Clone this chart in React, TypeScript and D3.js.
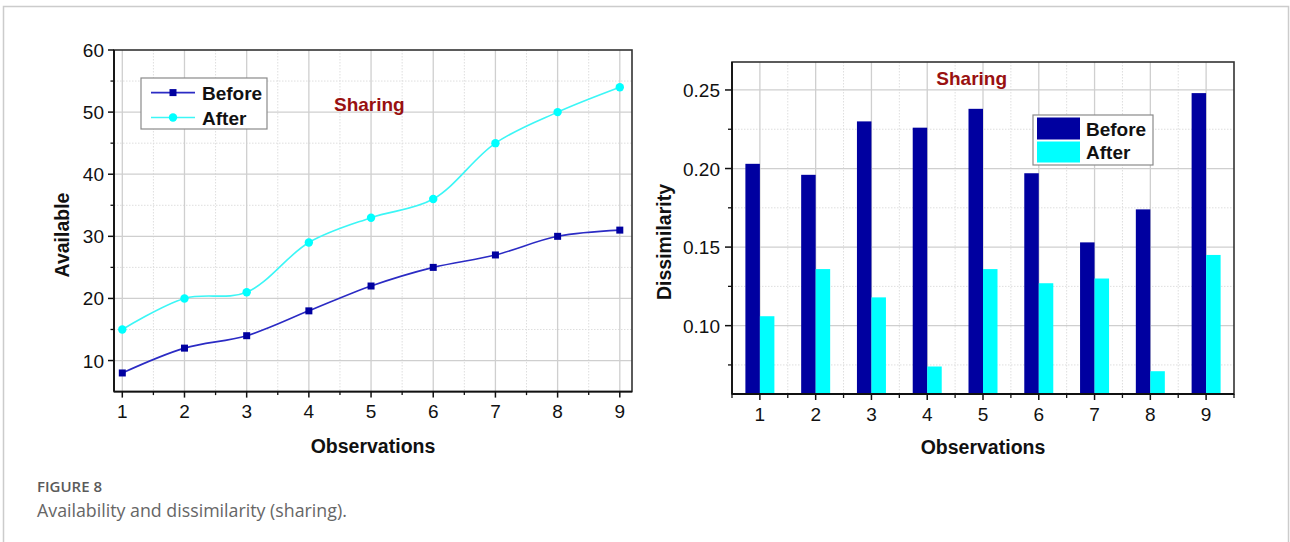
import React from "react";
import * as d3 from "d3";

const observations = [1, 2, 3, 4, 5, 6, 7, 8, 9];
const availableBefore = [8, 12, 14, 18, 22, 25, 27, 30, 31];
const availableAfter = [15, 20, 21, 29, 33, 36, 45, 50, 54];
const dissimBefore = [0.203, 0.196, 0.23, 0.226, 0.238, 0.197, 0.153, 0.174, 0.248];
const dissimAfter = [0.106, 0.136, 0.118, 0.074, 0.136, 0.127, 0.13, 0.071, 0.145];
const leftYTicks = [10, 20, 30, 40, 50, 60];
const leftYMinor = [15, 25, 35, 45, 55];
const rightYTicks = [0.1, 0.15, 0.2, 0.25];
const rightYMinor = [0.075, 0.125, 0.175, 0.225];
const seriesNames = ["Before", "After"];

const FONT = "'Liberation Sans', Arial, sans-serif";
const BEFORE_MARK = "#0000a0";
const BEFORE_LINE = "#2b2bc4";
const AFTER = "#00ffff";
const AFTER_LINE = "#3cf6f6";
const TITLE_RED = "#991111";
const GRID = "#cfcfcf";
const MINOR = "#dedede";

export default function App() {
  // Left chart
  const L = { left: 114, right: 632, top: 50, bottom: 391.6 };
  const x1 = d3.scaleLinear().domain([1, 9]).range([122.3, 619.8]);
  const y1 = d3.scaleLinear().domain([5, 60]).range([L.bottom, L.top]);
  const xMinor1 = observations.slice(0, -1).map((d) => d + 0.5);
  const lineGen = d3
    .line<number>()
    .x((_, i) => x1(observations[i]))
    .y((d) => y1(d))
    .curve(d3.curveCatmullRom.alpha(0.5));

  // Right chart
  const R = { left: 732, right: 1234, top: 62, bottom: 394 };
  const x2 = d3.scaleLinear().domain([0.5, 9.5]).range([R.left, R.right]);
  const y2 = d3.scaleLinear().domain([0.0565, 0.2678]).range([R.bottom, R.top]);
  const barW = 14.5;
  const xMinor2 = [0.5, ...observations.map((d) => d + 0.5)];

  return (
    <svg
      width={1290}
      height={542}
      style={{ position: "absolute", left: 0, top: 0, background: "#fff" }}
      fontFamily={FONT}
    >
      <rect x={3.5} y={6.5} width={1285} height={560} fill="none" stroke="#cccccc" strokeWidth={1.5} />

      {/* ===== Left chart ===== */}
      <g>
        {xMinor1.map((d) => (
          <line key={"lvm" + d} x1={x1(d)} x2={x1(d)} y1={L.top} y2={L.bottom} stroke={MINOR} strokeDasharray="1.5,1.5" />
        ))}
        {leftYMinor.map((d) => (
          <line key={"lhm" + d} x1={L.left} x2={L.right} y1={y1(d)} y2={y1(d)} stroke={MINOR} strokeDasharray="1.5,1.5" />
        ))}
        {observations.map((d) => (
          <line key={"lv" + d} x1={x1(d)} x2={x1(d)} y1={L.top} y2={L.bottom} stroke={GRID} strokeWidth={1.3} />
        ))}
        {leftYTicks.slice(0, -1).map((d) => (
          <line key={"lh" + d} x1={L.left} x2={L.right} y1={y1(d)} y2={y1(d)} stroke={GRID} strokeWidth={1.3} />
        ))}
        <rect x={L.left} y={L.top} width={L.right - L.left} height={L.bottom - L.top} fill="none" stroke="#333" strokeWidth={1.6} />
        <line x1={L.left} x2={L.left} y1={L.top} y2={L.bottom} stroke="#111" strokeWidth={1.8} />
        <line x1={L.left} x2={L.right} y1={L.bottom} y2={L.bottom} stroke="#111" strokeWidth={1.8} />
        {leftYTicks.map((d) => (
          <g key={"lyt" + d}>
            <line x1={L.left - 6} x2={L.left} y1={y1(d)} y2={y1(d)} stroke="#111" strokeWidth={1.5} />
            <text x={L.left - 10} y={y1(d) + 7} fontSize={19} textAnchor="end" fill="#111">
              {d}
            </text>
          </g>
        ))}
        {leftYMinor.map((d) => (
          <line key={"lym" + d} x1={L.left - 3.5} x2={L.left} y1={y1(d)} y2={y1(d)} stroke="#111" strokeWidth={1.3} />
        ))}
        {observations.map((d) => (
          <g key={"lxt" + d}>
            <line x1={x1(d)} x2={x1(d)} y1={L.bottom} y2={L.bottom + 6} stroke="#111" strokeWidth={1.5} />
            <text x={x1(d)} y={L.bottom + 26.5} fontSize={19} textAnchor="middle" fill="#111">
              {d}
            </text>
          </g>
        ))}
        {xMinor1.map((d) => (
          <line key={"lxm" + d} x1={x1(d)} x2={x1(d)} y1={L.bottom} y2={L.bottom + 3.5} stroke="#111" strokeWidth={1.3} />
        ))}

        <path d={lineGen(availableAfter) || ""} fill="none" stroke={AFTER_LINE} strokeWidth={1.6} />
        <path d={lineGen(availableBefore) || ""} fill="none" stroke={BEFORE_LINE} strokeWidth={1.6} />
        {availableAfter.map((d, i) => (
          <circle key={"ac" + i} cx={x1(observations[i])} cy={y1(d)} r={4.2} fill={AFTER} />
        ))}
        {availableBefore.map((d, i) => (
          <rect key={"bs" + i} x={x1(observations[i]) - 3.5} y={y1(d) - 3.5} width={7} height={7} fill={BEFORE_MARK} />
        ))}

        {/* legend */}
        <rect x={141} y={78} width={126} height={51} fill="#fff" stroke="#8a8a8a" strokeWidth={1.2} />
        <line x1={151} x2={195} y1={92.6} y2={92.6} stroke={BEFORE_LINE} strokeWidth={1.6} />
        <rect x={169.5} y={89.1} width={7} height={7} fill={BEFORE_MARK} />
        <text x={202} y={99.6} fontSize={19} fontWeight="bold" fill="#111">{seriesNames[0]}</text>
        <line x1={151} x2={195} y1={117.5} y2={117.5} stroke={AFTER_LINE} strokeWidth={1.6} />
        <circle cx={173} cy={117.5} r={4.2} fill={AFTER} />
        <text x={202} y={124.5} fontSize={19} fontWeight="bold" fill="#111">{seriesNames[1]}</text>

        <text x={334} y={110.5} fontSize={19} fontWeight="bold" fill={TITLE_RED}>Sharing</text>

        <text x={373} y={453} fontSize={19.5} fontWeight="bold" textAnchor="middle" fill="#111">Observations</text>
        <text transform="translate(69,235) rotate(-90)" fontSize={19.5} fontWeight="bold" textAnchor="middle" fill="#111">Available</text>
      </g>

      {/* ===== Right chart ===== */}
      <g>
        {xMinor2.slice(1, -1).map((d) => (
          <line key={"rvm" + d} x1={x2(d)} x2={x2(d)} y1={R.top} y2={R.bottom} stroke={MINOR} strokeDasharray="1.5,1.5" />
        ))}
        {rightYMinor.map((d) => (
          <line key={"rhm" + d} x1={R.left} x2={R.right} y1={y2(d)} y2={y2(d)} stroke={MINOR} strokeDasharray="1.5,1.5" />
        ))}
        {observations.map((d) => (
          <line key={"rv" + d} x1={x2(d)} x2={x2(d)} y1={R.top} y2={R.bottom} stroke={GRID} strokeWidth={1.3} />
        ))}
        {rightYTicks.map((d) => (
          <line key={"rh" + d} x1={R.left} x2={R.right} y1={y2(d)} y2={y2(d)} stroke={GRID} strokeWidth={1.3} />
        ))}

        {dissimBefore.map((d, i) => (
          <rect key={"rb" + i} x={x2(observations[i]) - barW} y={y2(d)} width={barW} height={R.bottom - y2(d)} fill={BEFORE_MARK} />
        ))}
        {dissimAfter.map((d, i) => (
          <rect key={"ra" + i} x={x2(observations[i])} y={y2(d)} width={barW} height={R.bottom - y2(d)} fill={AFTER} />
        ))}

        <rect x={R.left} y={R.top} width={R.right - R.left} height={R.bottom - R.top} fill="none" stroke="#333" strokeWidth={1.6} />
        <line x1={R.left} x2={R.left} y1={R.top} y2={R.bottom} stroke="#111" strokeWidth={1.8} />
        <line x1={R.left} x2={R.right} y1={R.bottom} y2={R.bottom} stroke="#111" strokeWidth={1.8} />
        {rightYTicks.map((d) => (
          <g key={"ryt" + d}>
            <line x1={R.left - 7} x2={R.left} y1={y2(d)} y2={y2(d)} stroke="#111" strokeWidth={1.5} />
            <text x={R.left - 12} y={y2(d) + 7} fontSize={19} textAnchor="end" fill="#111">
              {d.toFixed(2)}
            </text>
          </g>
        ))}
        {rightYMinor.map((d) => (
          <line key={"rym" + d} x1={R.left - 4} x2={R.left} y1={y2(d)} y2={y2(d)} stroke="#111" strokeWidth={1.3} />
        ))}
        {observations.map((d) => (
          <g key={"rxt" + d}>
            <line x1={x2(d)} x2={x2(d)} y1={R.bottom} y2={R.bottom + 6} stroke="#111" strokeWidth={1.5} />
            <text x={x2(d)} y={R.bottom + 27} fontSize={19} textAnchor="middle" fill="#111">
              {d}
            </text>
          </g>
        ))}
        {xMinor2.map((d) => (
          <line key={"rxm" + d} x1={x2(d)} x2={x2(d)} y1={R.bottom} y2={R.bottom + 4} stroke="#111" strokeWidth={1.3} />
        ))}

        <rect x={1033} y={115} width={120} height={50} fill="#fff" stroke="#8a8a8a" strokeWidth={1.2} />
        <rect x={1037} y={117.5} width={43} height={22} fill={BEFORE_MARK} />
        <rect x={1037} y={141.5} width={43} height={21} fill={AFTER} />
        <text x={1086} y={135.6} fontSize={19} fontWeight="bold" fill="#111">{seriesNames[0]}</text>
        <text x={1086} y={159} fontSize={19} fontWeight="bold" fill="#111">{seriesNames[1]}</text>

        <text x={971.7} y={84.5} fontSize={19} fontWeight="bold" textAnchor="middle" fill={TITLE_RED}>Sharing</text>
        <text x={983} y={454} fontSize={19.5} fontWeight="bold" textAnchor="middle" fill="#111">Observations</text>
        <text transform="translate(671,242) rotate(-90)" fontSize={19.5} fontWeight="bold" textAnchor="middle" fill="#111">Dissimilarity</text>
      </g>

      {/* caption */}
      <text x={37} y={491.5} fontSize={15} fontWeight={600} fill="#5a5a5a" fontFamily="'Open Sans', 'Noto Sans', sans-serif">FIGURE 8</text>
      <text x={37} y={517} fontSize={17.8} fill="#666" fontFamily="'Open Sans', 'Noto Sans', sans-serif">Availability and dissimilarity (sharing).</text>
    </svg>
  );
}
